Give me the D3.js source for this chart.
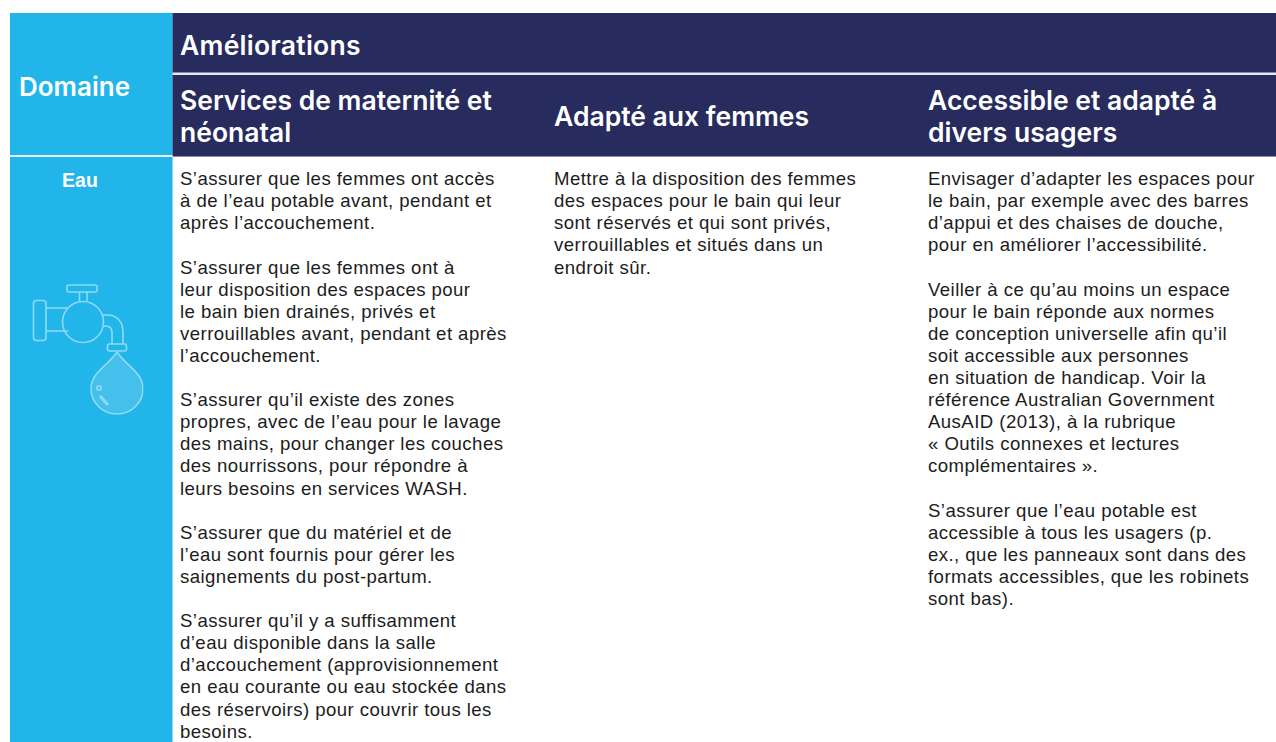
<!DOCTYPE html>
<html><head><meta charset="utf-8">
<script src="https://cdn.jsdelivr.net/npm/d3@7"></script>
<style>html,body{margin:0;padding:0;background:#fff;overflow:hidden}svg{display:block}</style>
</head><body><svg id="c" width="1276" height="742"></svg>
<script>
const rowHeader = "Domaine";
const groupHeader = "Améliorations";
const rowLabel = "Eau";
const columns = ["maternite","femmes","usagers"];
const headMaternite = ["Services de maternité et","néonatal"];
const headFemmes = ["Adapté aux femmes"];
const headUsagers = ["Accessible et adapté à","divers usagers"];
const bodyMaternite = [
"S’assurer que les femmes ont accès","à de l’eau potable avant, pendant et","après l’accouchement.","",
"S’assurer que les femmes ont à","leur disposition des espaces pour","le bain bien drainés, privés et","verrouillables avant, pendant et après","l’accouchement.","",
"S’assurer qu’il existe des zones","propres, avec de l’eau pour le lavage","des mains, pour changer les couches","des nourrissons, pour répondre à","leurs besoins en services WASH.","",
"S’assurer que du matériel et de","l’eau sont fournis pour gérer les","saignements du post-partum.","",
"S’assurer qu’il y a suffisamment","d’eau disponible dans la salle","d’accouchement (approvisionnement","en eau courante ou eau stockée dans","des réservoirs) pour couvrir tous les","besoins."];
const bodyFemmes = ["Mettre à la disposition des femmes","des espaces pour le bain qui leur","sont réservés et qui sont privés,","verrouillables et situés dans un","endroit sûr."];
const bodyUsagers = [
"Envisager d’adapter les espaces pour","le bain, par exemple avec des barres","d’appui et des chaises de douche,","pour en améliorer l’accessibilité.","",
"Veiller à ce qu’au moins un espace","pour le bain réponde aux normes","de conception universelle afin qu’il","soit accessible aux personnes","en situation de handicap. Voir la","référence Australian Government","AusAID (2013), à la rubrique","« Outils connexes et lectures","complémentaires ».","",
"S’assurer que l’eau potable est","accessible à tous les usagers (p.","ex., que les panneaux sont dans des","formats accessibles, que les robinets","sont bas)."];

const BLUE="#22b5ea", NAVY="#272b5e", INK="#1c1c1c";
const HEAD="Inter, 'Noto Sans', sans-serif", BODY="'Liberation Sans', Arial, sans-serif";
const svg=d3.select("#c");
const colX=d3.scaleOrdinal().domain(columns).range([180,554,928]);
const lineY=d3.scaleLinear().domain([0,1]).range([178.6,200.7]);

svg.append("rect").attr("x",10).attr("y",13).attr("width",162.5).attr("height",729).attr("fill",BLUE);
svg.append("rect").attr("x",172.5).attr("y",13).attr("width",1103.5).attr("height",143).attr("fill",NAVY);
svg.append("rect").attr("x",172.5).attr("y",72.5).attr("width",1103.5).attr("height",2.5).attr("fill","#e6e7ee");
svg.append("rect").attr("x",10).attr("y",155).attr("width",162.5).attr("height",2).attr("fill","#e8f7fd");
svg.append("rect").attr("x",172.5).attr("y",156).attr("width",1103.5).attr("height",1).attr("fill","#8b8dab");

function head(t,x,y,size,ls){
  svg.append("text").attr("x",x).attr("y",y).attr("fill","#fff").attr("font-family",HEAD)
   .attr("font-weight",600).attr("font-size",size).attr("letter-spacing",ls||0).attr("dominant-baseline","central").text(t);
}
head(rowHeader,19,86,26);
head(groupHeader,180,45,26.5,0.25);
const headY=d3.scaleLinear().domain([0,1]).range([100,132]);
[[headMaternite,"maternite"],[headFemmes,"femmes"],[headUsagers,"usagers"]].forEach(([ls,c])=>{
  ls.forEach((t,i)=>head(t,colX(c),ls.length==1?116:headY(i),26.5));
});
svg.append("text").attr("x",80).attr("y",180).attr("text-anchor","middle").attr("dominant-baseline","central")
 .attr("fill","#fff").attr("font-family","'Liberation Sans',sans-serif").attr("font-weight",700).attr("font-size",19.5).text(rowLabel);

[[bodyMaternite,"maternite"],[bodyFemmes,"femmes"],[bodyUsagers,"usagers"]].forEach(([ls,c])=>{
  svg.append("g").selectAll("text").data(ls).join("text")
   .attr("x",colX(c)).attr("y",(d,i)=>lineY(i)).attr("dominant-baseline","central")
   .attr("fill",INK).attr("font-family",BODY).attr("font-size",18.6).attr("letter-spacing",0.44).text(d=>d);
});

// tap and water drop icon
const ic=svg.append("g").attr("fill","none").attr("stroke","#8fdbf6").attr("stroke-width",1.6);
ic.append("rect").attr("x",33.5).attr("y",300.5).attr("width",12.5).attr("height",40).attr("rx",3);
ic.append("path").attr("d","M46 308H67M46 331H68");
ic.append("circle").attr("cx",83).attr("cy",322).attr("r",20.5);
ic.append("rect").attr("x",67).attr("y",285).attr("width",30).attr("height",7).attr("rx",2);
ic.append("path").attr("d","M79.5 292V301M87 292V301");
ic.append("path").attr("d","M102 315H107C117 315 123 322 123 332V344M104 326H106C110 326 112 329 112 333V344");
ic.append("rect").attr("x",107.5).attr("y",344).attr("width",19).attr("height",7).attr("rx",2);
const clip=svg.append("clipPath").attr("id","dc");
clip.append("rect").attr("x",80).attr("y",340).attr("width",63.5).attr("height",75);
ic.append("path").attr("clip-path","url(#dc)").attr("fill","#45bfec")
  .attr("d","M117 352C108 366 91 372 91 389C91 403 103 414 117 414C131 414 143 403 143 389C143 372 126 366 117 352Z");
ic.append("circle").attr("cx",99).attr("cy",388).attr("r",2.2);
ic.append("path").attr("stroke-width",3).attr("d","M100 396L108 405");
</script></body></html>
